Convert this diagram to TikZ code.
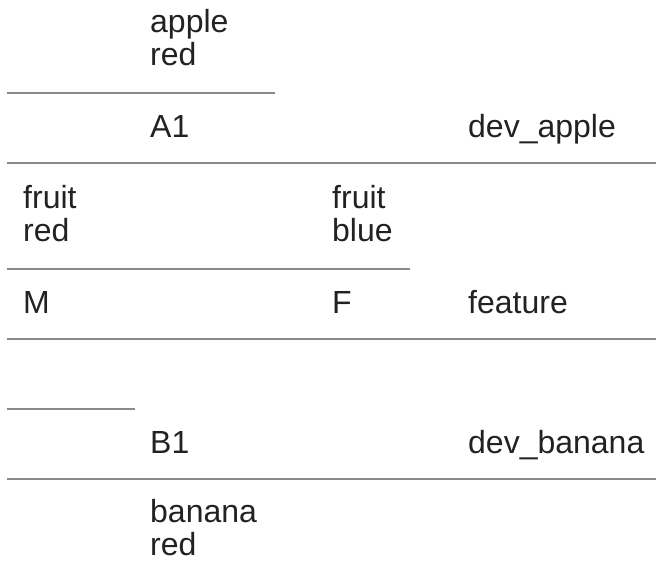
\documentclass[tikz,border=0pt]{standalone}
\usepackage{fontspec}
\setmainfont{Liberation Sans}
\definecolor{rule}{HTML}{8A8A8A}
\definecolor{ink}{HTML}{222222}
\tikzset{
  lbl/.style={anchor=base west, inner sep=0pt, text=ink, font=\fontsize{32}{36}\selectfont},
  sep/.style={draw=rule, line width=2pt}
}
\begin{document}
\begin{tikzpicture}[x=1pt,y=-1pt]
\useasboundingbox (0,0) rectangle (656,562);
% separators
\coordinate (l1a) at (7,93);  \coordinate (l1b) at (275,93);
\coordinate (l2a) at (7,163); \coordinate (l2b) at (656,163);
\coordinate (l3a) at (7,269); \coordinate (l3b) at (410,269);
\coordinate (l4a) at (7,339); \coordinate (l4b) at (656,339);
\coordinate (l5a) at (7,409); \coordinate (l5b) at (135,409);
\coordinate (l6a) at (7,479); \coordinate (l6b) at (656,479);
\draw[sep] (l1a) -- (l1b);
\draw[sep] (l2a) -- (l2b);
\draw[sep] (l3a) -- (l3b);
\draw[sep] (l4a) -- (l4b);
\draw[sep] (l5a) -- (l5b);
\draw[sep] (l6a) -- (l6b);
% texts
\node[lbl] (apple) at (150,32) {apple};
\node[lbl] (applered) at (150,65) {red};
\node[lbl] (a1) at (150,137) {A1};
\node[lbl] (devapple) at (468,137) {dev\_apple};
\node[lbl] (fruit1) at (23,208) {fruit};
\node[lbl] (fruit1c) at (23,241) {red};
\node[lbl] (fruit2) at (332,208) {fruit};
\node[lbl] (fruit2c) at (332,241) {blue};
\node[lbl] (m) at (23,313) {M};
\node[lbl] (f) at (332,313) {F};
\node[lbl] (feature) at (468,313) {feature};
\node[lbl] (b1) at (150,453) {B1};
\node[lbl] (devbanana) at (468,453) {dev\_banana};
\node[lbl] (banana) at (150,522) {banana};
\node[lbl] (bananared) at (150,555) {red};
\end{tikzpicture}
\end{document}
